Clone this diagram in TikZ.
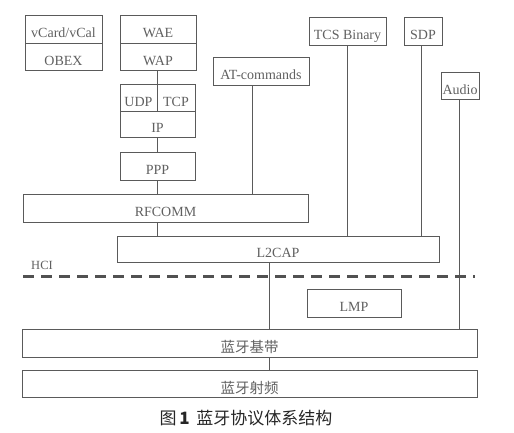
\documentclass[tikz,border=0pt]{standalone}
\usepackage{fontspec}
\setmainfont{Liberation Serif}
\newfontfamily\cjk{Noto Sans CJK SC}
\definecolor{ln}{HTML}{5A5A5A}
\definecolor{tx}{HTML}{606060}
\begin{document}
\begin{tikzpicture}[x=1pt,y=-1pt,
  box/.style={draw=ln,line width=1pt,inner sep=0pt,text=tx,font=\fontsize{14}{16}\selectfont,text height=16pt,text depth=0pt},
  cjkbox/.style={box,font=\cjk\fontsize{14.5}{16}\selectfont,text height=19pt},
  conn/.style={draw=ln,line width=1pt},
  hci/.style={draw=ln!90!black,line width=3pt,dash pattern=on 11pt off 7pt}]
\useasboundingbox (0,0) rectangle (514,433);
\node[box,minimum width=77,minimum height=28] (vcard) at (63.5,30) {vCard/vCal};
\node[box,minimum width=77,minimum height=27] (obex) at (63.5,57.5) {OBEX};
\node[box,minimum width=76,minimum height=28] (wae) at (158,30) {WAE};
\node[box,minimum width=76,minimum height=27] (wap) at (158,57.5) {WAP};
\node[box,minimum width=37,minimum height=27] (udp) at (138.5,98.5) {UDP};
\node[box,minimum width=38,minimum height=27] (tcp) at (176,98.5) {TCP};
\node[box,minimum width=75,minimum height=26] (ip) at (157.5,125) {IP};
\node[box,minimum width=75,minimum height=27] (ppp) at (157.5,166.5) {PPP};
\node[box,minimum width=96,minimum height=28] (at) at (261,72) {AT-commands};
\node[box,minimum width=77,minimum height=28] (tcs) at (347.5,32) {TCS Binary};
\node[box,minimum width=38,minimum height=28] (sdp) at (423,32) {SDP};
\node[box,minimum width=38,minimum height=27] (audio) at (460,86.5) {Audio};
\node[box,minimum width=285,minimum height=28] (rfcomm) at (165.5,208) {RFCOMM};
\node[box,minimum width=322,minimum height=26] (l2cap) at (278,249) {L2CAP};
\node[box,minimum width=94,minimum height=28] (lmp) at (354,303) {LMP};
\node[cjkbox,minimum width=455,minimum height=28] (bb) at (249.5,343) {蓝牙基带};
\node[cjkbox,minimum width=455,minimum height=27] (rf) at (249.5,383.5) {蓝牙射频};
\node[text=tx,font=\fontsize{12.5}{14}\selectfont] (hcilabel) at (42,265) {HCI};
\node[text=black!85,font=\cjk\fontsize{17}{19}\selectfont] (caption) at (246,418) {图\,\textbf{1}\, 蓝牙协议体系结构};
\coordinate (hciL) at (23,276);
\coordinate (hciR) at (475,276);
% connectors
\draw[conn] (udp.north east |- wap.south) -- (udp.north east);
\draw[conn] (ip.south) -- (ppp.north);
\draw[conn] (ppp.south) -- (ppp.south |- rfcomm.north);
\draw[conn] ([xshift=-9pt]at.south) -- ([xshift=-9pt]at.south |- rfcomm.north);
\draw[conn] (ppp.south |- rfcomm.south) -- (ppp.south |- l2cap.north);
\draw[conn] (tcs.south) -- (tcs.south |- l2cap.north);
\draw[conn] ([xshift=-1.5pt]sdp.south) -- ([xshift=-1.5pt]sdp.south |- l2cap.north);
\draw[conn] ([xshift=-1pt]audio.south) -- ([xshift=-1pt]audio.south |- bb.north);
\draw[conn] ([xshift=-9pt]l2cap.south) -- ([xshift=-9pt]l2cap.south |- bb.north);
\draw[conn] ([xshift=-9pt]l2cap.south |- bb.south) -- ([xshift=-9pt]l2cap.south |- rf.north);
\draw[hci] (hciL) -- (hciR);
\end{tikzpicture}
\end{document}
